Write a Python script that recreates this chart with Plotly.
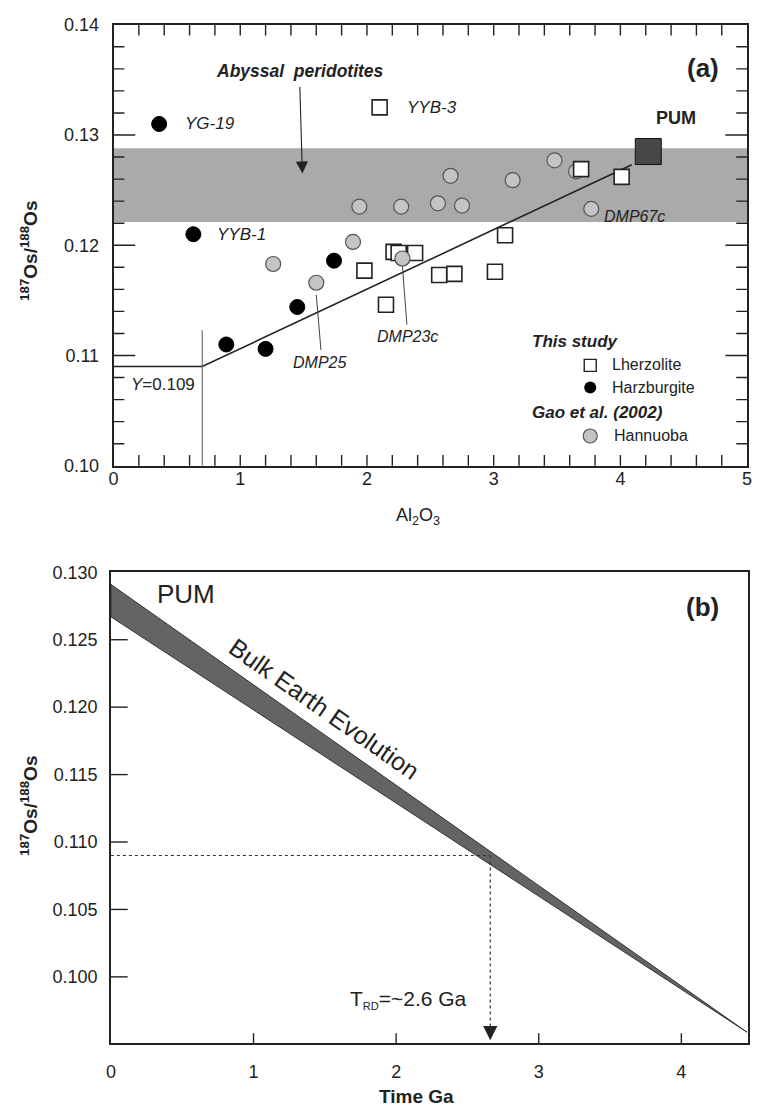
import plotly.graph_objects as go

# ---------------- Panel (a): 187Os/188Os vs Al2O3 ----------------
lherz_al = [2.10, 2.21, 2.25, 2.38, 1.98, 2.15, 2.57, 2.69, 3.01, 3.09, 3.69, 4.01]
lherz_os = [0.1325, 0.1194, 0.1193, 0.1193, 0.1177, 0.1146, 0.1173, 0.1174,
            0.1176, 0.1209, 0.1269, 0.1262]

harz_al = [0.36, 0.63, 1.74, 1.45, 0.89, 1.20]
harz_os = [0.1310, 0.1210, 0.1186, 0.1144, 0.1110, 0.1106]

hann_al = [1.26, 1.89, 1.60, 2.28, 1.94, 2.27, 2.56, 2.66, 2.75, 3.15, 3.48, 3.65, 3.77]
hann_os = [0.1183, 0.1203, 0.1166, 0.1188, 0.1235, 0.1235, 0.1238, 0.1263,
           0.1236, 0.1259, 0.1277, 0.1267, 0.1233]

pum_al = [4.22]
pum_os = [0.1285]

abyssal_os = [0.1221, 0.1288]          # abyssal peridotite range
trend_al = [0.0, 0.70, 4.09]           # Al2O3 - Os isotope trend
trend_os = [0.109, 0.109, 0.1273]
y_intercept = 0.109

# ---------------- Panel (b): bulk Earth evolution ----------------
bse_t = [0.0, 4.46, 0.0, 0.0]
bse_os = [0.1291, 0.0959, 0.1267, 0.1291]
t_rd = 2.66

# tick positions
a_xticks = [round(0.2 * i, 1) for i in range(1, 25)]
a_yticks = [round(0.100 + 0.002 * i, 3) for i in range(1, 20)]
b_xticks = [1, 2, 3, 4]
b_yticks = [0.100, 0.105, 0.110, 0.115, 0.120, 0.125]

FONT = "Liberation Sans, Arial, Helvetica, sans-serif"
INK = "#222222"

# plot-area sizes in pixels (used to express tick lengths)
W, H = 759, 1119
A_DOM_X, A_DOM_Y = [0.1449, 0.9908], [0.5853, 0.9866]
B_DOM_X, B_DOM_Y = [0.1414, 0.9925], [0.0601, 0.4886]
A_W, A_H = (A_DOM_X[1] - A_DOM_X[0]) * W, (A_DOM_Y[1] - A_DOM_Y[0]) * H
B_W, B_H = (B_DOM_X[1] - B_DOM_X[0]) * W, (B_DOM_Y[1] - B_DOM_Y[0]) * H

fig = go.Figure()

# abyssal peridotite band
fig.add_shape(type="rect", xref="x", yref="y", x0=0, x1=5,
              y0=abyssal_os[0], y1=abyssal_os[1],
              fillcolor="#aaaaaa", line=dict(width=0), layer="below")

# trend line + vertical marker at its kink
fig.add_trace(go.Scatter(x=trend_al, y=trend_os, mode="lines",
                         line=dict(color=INK, width=1.6), hoverinfo="skip",
                         showlegend=False, xaxis="x", yaxis="y"))
fig.add_shape(type="line", xref="x", yref="y", x0=trend_al[1], x1=trend_al[1],
              y0=0.100, y1=0.1123, line=dict(color="#555555", width=1))

# leader lines for labelled samples
fig.add_shape(type="line", xref="x", yref="y", x0=hann_al[2], y0=hann_os[2] - 0.0011,
              x1=1.637, y1=0.1105, line=dict(color="#444444", width=1))
fig.add_shape(type="line", xref="x", yref="y", x0=hann_al[3], y0=hann_os[3] - 0.0007,
              x1=2.315, y1=0.1128, line=dict(color="#444444", width=1))

fig.add_trace(go.Scatter(x=hann_al, y=hann_os, mode="markers",
                         marker=dict(size=15, color="#c4c4c4",
                                     line=dict(color="#555555", width=1.2)),
                         showlegend=False, xaxis="x", yaxis="y"))
fig.add_trace(go.Scatter(x=lherz_al, y=lherz_os, mode="markers",
                         marker=dict(symbol="square", size=15, color="white",
                                     line=dict(color=INK, width=1.6)),
                         showlegend=False, xaxis="x", yaxis="y"))
# DMP23c sits on top of the neighbouring squares
fig.add_trace(go.Scatter(x=[hann_al[3]], y=[hann_os[3]], mode="markers",
                         marker=dict(size=15, color="#c4c4c4",
                                     line=dict(color="#555555", width=1.2)),
                         showlegend=False, xaxis="x", yaxis="y"))
fig.add_trace(go.Scatter(x=harz_al, y=harz_os, mode="markers",
                         marker=dict(size=15, color="black",
                                     line=dict(color="black", width=1)),
                         showlegend=False, xaxis="x", yaxis="y"))
fig.add_trace(go.Scatter(x=pum_al, y=pum_os, mode="markers",
                         marker=dict(symbol="square", size=26, color="#474747",
                                     line=dict(color="#111111", width=1)),
                         showlegend=False, xaxis="x", yaxis="y"))

# hand-laid legend
leg_x = 3.762
fig.add_trace(go.Scatter(x=[leg_x], y=[0.1091], mode="markers",
                         marker=dict(symbol="square", size=12, color="white",
                                     line=dict(color=INK, width=1.4)),
                         showlegend=False, xaxis="x", yaxis="y"))
fig.add_trace(go.Scatter(x=[leg_x], y=[0.1071], mode="markers",
                         marker=dict(size=12, color="black"),
                         showlegend=False, xaxis="x", yaxis="y"))
fig.add_trace(go.Scatter(x=[leg_x], y=[0.1027], mode="markers",
                         marker=dict(size=14, color="#c4c4c4",
                                     line=dict(color="#555555", width=1.2)),
                         showlegend=False, xaxis="x", yaxis="y"))

# ---------------- panel (b) traces ----------------
fig.add_trace(go.Scatter(x=bse_t, y=bse_os, mode="lines", fill="toself",
                         fillcolor="#646464", line=dict(color="#333333", width=1),
                         showlegend=False, hoverinfo="skip", xaxis="x2", yaxis="y2"))
fig.add_shape(type="line", xref="x2", yref="y2", x0=0, x1=t_rd,
              y0=y_intercept, y1=y_intercept,
              line=dict(color="#333333", width=1.2, dash="dot"))
fig.add_shape(type="line", xref="x2", yref="y2", x0=t_rd, x1=t_rd,
              y0=y_intercept, y1=0.0962,
              line=dict(color="#333333", width=1.2, dash="dot"))

# ---------------- inside tick marks ----------------
TICK = dict(color=INK, width=1.4)


def tick(xref, yref, x0, x1, y0, y1):
    fig.add_shape(type="line", xref=xref, yref=yref, x0=x0, x1=x1,
                  y0=y0, y1=y1, line=TICK, layer="above")


for v in a_xticks:                       # bottom and top of panel (a)
    L = 11 / A_H
    tick("x", "y domain", v, v, 0, L)
    tick("x", "y domain", v, v, 1 - L, 1)
for v in a_yticks:                       # left and right of panel (a)
    major = abs(round(v * 100) - v * 100) < 1e-6
    L = (22 if major else 11) / A_W
    tick("x domain", "y", 0, L, v, v)
    tick("x domain", "y", 1 - L, 1, v, v)
for v in b_xticks:
    tick("x2", "y2 domain", v, v, 0, 10 / B_H)
for v in b_yticks:
    tick("x2 domain", "y2", 0, 17 / B_W, v, v)


def txt(x, y, s, size, ax="x", ay="y", xanchor="center", yanchor="middle", angle=0):
    return dict(x=x, y=y, xref=ax, yref=ay, text=s, showarrow=False,
                font=dict(family=FONT, size=size, color=INK),
                xanchor=xanchor, yanchor=yanchor, textangle=angle)


ann = [
    # panel (a) labels
    txt(1.473, 0.1358, "<b><i>Abyssal  peridotites</i></b>", 17.5),
    txt(0.546, 0.1310, "<i>YG-19</i>", 17, xanchor="left"),
    txt(0.80, 0.1210, "<i>YYB-1</i>", 17, xanchor="left"),
    txt(2.30, 0.1325, "<i>YYB-3</i>", 17, xanchor="left"),
    txt(4.435, 0.1315, "<b>PUM</b>", 18),
    txt(4.65, 0.1361, "<b>(a)</b>", 26),
    txt(4.11, 0.1226, "<i>DMP67c</i>", 16),
    txt(2.319, 0.1117, "<i>DMP23c</i>", 16),
    txt(1.624, 0.1094, "<i>DMP25</i>", 16),
    txt(0.39, 0.1074, "<i>Y</i>=0.109", 17),
    txt(3.644, 0.1113, "<b><i>This study</i></b>", 17),
    txt(3.92, 0.1092, "Lherzolite", 16, xanchor="left"),
    txt(3.92, 0.1071, "Harzburgite", 16, xanchor="left"),
    txt(3.819, 0.1048, "<b><i>Gao et al. (2002)</i></b>", 17),
    txt(3.93, 0.1027, "Hannuoba", 16, xanchor="left"),
    # axis titles
    txt(0.031, 0.781, "<b><sup>187</sup>Os/<sup>188</sup>Os</b>", 19, "paper", "paper", angle=-90),
    txt(0.551, 0.539, "Al<sub>2</sub>O<sub>3</sub>", 18, "paper", "paper"),
    txt(0.031, 0.276, "<b><sup>187</sup>Os/<sup>188</sup>Os</b>", 19, "paper", "paper", angle=-90),
    txt(0.549, 0.0116, "<b>Time Ga</b>", 19, "paper", "paper"),
    # panel (b) labels
    txt(0.527, 0.1284, "PUM", 26, "x2", "y2"),
    txt(4.15, 0.1274, "<b>(b)</b>", 26, "x2", "y2"),
    txt(1.50, 0.1199, "Bulk Earth Evolution", 25, "x2", "y2", angle=35),
    txt(2.085, 0.0983, "T<sub><span style='font-size:11px'>RD</span></sub>=~2.6 Ga", 21, "x2", "y2"),
    # arrows
    dict(x=1.49, y=0.1265, ax=1.47, ay=0.1345, xref="x", yref="y", axref="x", ayref="y",
         text="", showarrow=True, arrowhead=2, arrowsize=2.2, arrowwidth=1.1,
         arrowcolor=INK),
    dict(x=t_rd, y=0.0953, ax=0, ay=-14, xref="x2", yref="y2",
         text="", showarrow=True, arrowhead=2, arrowsize=2.6, arrowwidth=1.1,
         arrowcolor=INK),
]

TICKFONT = dict(family=FONT, size=18, color=INK)
AX = dict(ticks="", showticklabels=True, tickfont=TICKFONT, showline=True,
          linecolor=INK, linewidth=1.6, mirror=True, showgrid=False, zeroline=False)

fig.update_layout(
    width=W, height=H,
    margin=dict(l=0, r=0, t=0, b=0),
    paper_bgcolor="white", plot_bgcolor="white",
    font=dict(family=FONT, color=INK),
    showlegend=False,
    annotations=ann,
    xaxis=dict(domain=A_DOM_X, range=[0, 5], anchor="y",
               tickmode="linear", tick0=0, dtick=1, ticklabelstandoff=-4, **AX),
    yaxis=dict(domain=A_DOM_Y, range=[0.10, 0.14], anchor="x",
               tickmode="linear", tick0=0.10, dtick=0.01, tickformat=".2f",
               ticklabelstandoff=9, **AX),
    xaxis2=dict(domain=B_DOM_X, range=[0, 4.47], anchor="y2",
                tickmode="linear", tick0=0, dtick=1, ticklabelstandoff=12, **AX),
    yaxis2=dict(domain=B_DOM_Y, range=[0.0951, 0.13002], anchor="x2",
                tickmode="linear", tick0=0.100, dtick=0.005, tickformat=".3f",
                ticklabelstandoff=8, **AX),
)

fig.write_html("out.html")
